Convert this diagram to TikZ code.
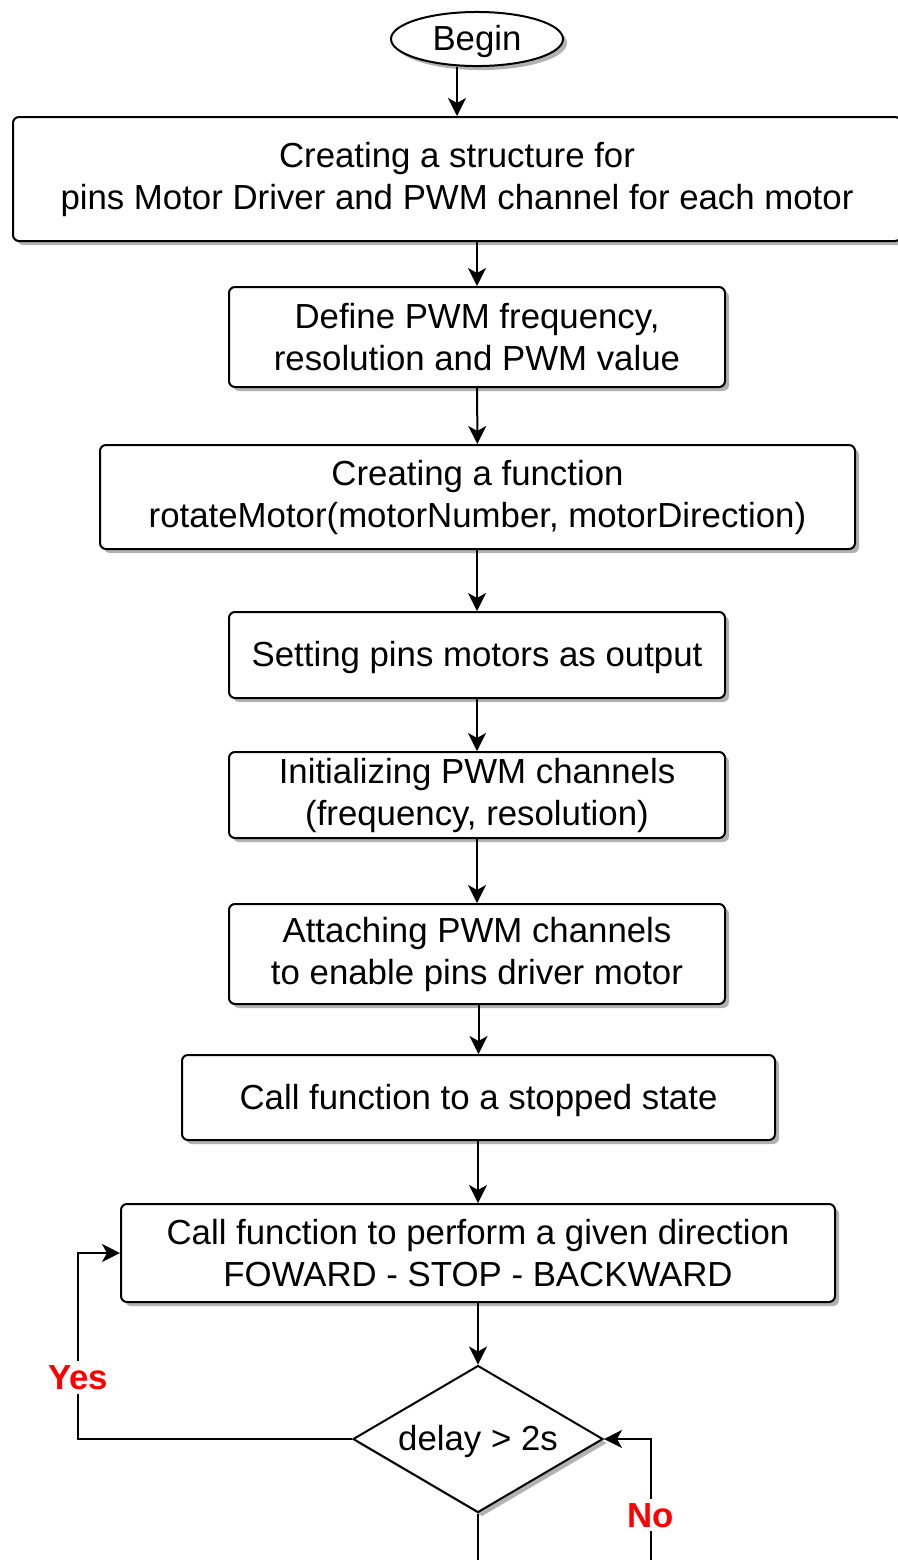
\documentclass[tikz,border=0pt]{standalone}
\usepackage{fontspec}
\setmainfont{Liberation Sans}
\usetikzlibrary{shapes.geometric,shadows,arrows.meta}
\begin{document}
\begin{tikzpicture}[x=0.5pt,y=-0.5pt,
  shad/.style={drop shadow={shadow xshift=2pt,shadow yshift=-2pt,fill=black!30,opacity=1}},
  txt/.style={font=\fontsize{17.4}{21}\selectfont, execute at begin node={\rule{0pt}{15.5pt}}},
  box/.style={draw, line width=1pt, rounded corners=3pt, fill=white, align=center,
    txt, inner sep=0pt, shad},
  term/.style={draw, ellipse, line width=1pt, fill=white, inner sep=0pt,
    txt, minimum width=86pt, minimum height=27pt, shad},
  decision/.style={draw, diamond, aspect=1.7, line width=1pt, fill=white, inner sep=0pt,
    txt, minimum width=125pt, minimum height=73.5pt, shad},
  flow/.style={line width=1pt, -{Stealth[length=9pt,width=9pt,inset=2.5pt]}},
  plain/.style={line width=1pt},
  lbl/.style={text=red, font=\fontsize{17.4}{21}\selectfont\bfseries, fill=white, inner sep=2pt}
]
\useasboundingbox (0,0) rectangle (898,1560);
\clip (0,0) rectangle (898,1560);

\node[term] (begin) at (477,39) {Begin};
\node[box, minimum width=444pt, minimum height=62pt] (b1) at (457,179)
  {Creating a structure for\\pins Motor Driver and PWM channel for each motor};
\node[box, minimum width=248pt, minimum height=50pt] (b2) at (477,337)
  {Define PWM frequency,\\resolution and PWM value};
\node[box, minimum width=377.5pt, minimum height=52pt] (b3) at (477.5,497)
  {Creating a function\\rotateMotor(motorNumber, motorDirection)};
\node[box, minimum width=248pt, minimum height=43pt] (b4) at (477,655)
  {Setting pins motors as output};
\node[box, minimum width=248pt, minimum height=43pt] (b5) at (477,795)
  {Initializing PWM channels\\(frequency, resolution)};
\node[box, minimum width=248pt, minimum height=50pt] (b6) at (477,954)
  {Attaching PWM channels\\to enable pins driver motor};
\node[box, minimum width=296.5pt, minimum height=42.5pt] (b7) at (478.5,1097.5)
  {Call function to a stopped state};
\node[box, minimum width=357pt, minimum height=49pt] (b8) at (478,1253)
  {Call function to perform a given direction\\FOWARD - STOP - BACKWARD};
\node[decision] (d) at (478,1439) {delay > 2s};

\coordinate (yc) at (78,1439);
\coordinate (nb) at (651,1560);
\coordinate (db) at (478,1560);

\draw[flow] (b1.north |- begin.south) -- (b1.north);
\draw[flow] (b1.south -| b2.north) -- (b2.north);
\draw[flow] (b2) -- (b3);
\draw[flow] (b3.south -| b4.north) -- (b4.north);
\draw[flow] (b4) -- (b5);
\draw[flow] (b5) -- (b6);
\draw[flow] (b6.south -| b7.north) -- (b7.north);
\draw[flow] (b7.south -| b8.north) -- (b8.north);
\draw[flow] (b8.south -| d.north) -- (d.north);
\draw[flow] (d.west) -- (yc) -- (yc |- b8.west)
  node[pos=0.33, lbl] {Yes} -- (b8.west);
\draw[flow] (nb) -- (nb |- d.east) node[pos=0.37, lbl] {No} -- (d.east);
\draw[plain] (d.south) -- (db);
\end{tikzpicture}
\end{document}
